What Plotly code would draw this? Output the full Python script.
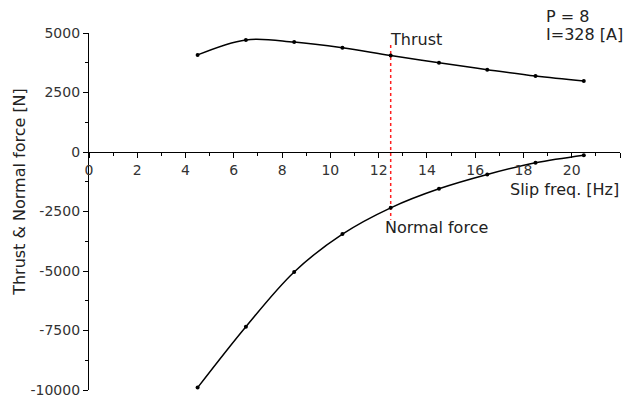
import plotly.graph_objects as go

slip_freq = [4.5, 6.5, 8.5, 10.5, 12.5, 14.5, 16.5, 18.5, 20.5]
thrust = [4080, 4710, 4620, 4380, 4050, 3750, 3460, 3190, 2980]
normal_force = [-9900, -7340, -5040, -3450, -2345, -1546, -945, -454, -134]
marker_x = [12.5, 12.5]
marker_y = [4500, -2850]
y_ticks = [5000, 2500, 0, -2500, -5000, -7500, -10000]
y_ticklabels = ["5000", "2500", "0", "-2500", "-5000", "-7500", "-10000"]

FONT = "DejaVu Sans"

fig = go.Figure()
fig.add_trace(go.Scatter(x=marker_x, y=marker_y, mode="lines",
                         line=dict(color="#ff2020", width=1.5, dash="dot"),
                         showlegend=False, hoverinfo="skip"))
fig.add_trace(go.Scatter(x=slip_freq, y=thrust, mode="lines+markers",
                         line=dict(color="black", width=1.5, shape="spline"),
                         marker=dict(color="black", size=4), showlegend=False))
fig.add_trace(go.Scatter(x=slip_freq, y=normal_force, mode="lines+markers",
                         line=dict(color="black", width=1.5, shape="spline"),
                         marker=dict(color="black", size=4), showlegend=False))

fig.update_layout(
    width=625, height=400,
    margin=dict(l=89, r=5, t=33, b=10),
    paper_bgcolor="white", plot_bgcolor="white",
    font=dict(family=FONT, color="#222", size=14),
    xaxis=dict(range=[0, 22], dtick=2, tick0=0, showgrid=False, zeroline=False,
               showline=True, linecolor="black", linewidth=1.3, automargin=False,
               ticks="outside", ticklen=5, tickcolor="black", tickwidth=1.2,
               minor=dict(dtick=1, ticks="outside", ticklen=3, tickcolor="black", tickwidth=1),
               anchor="free", position=2/3,
               tickfont=dict(size=14, color="#333")),
    yaxis=dict(range=[-10000, 5000], tickvals=y_ticks, ticktext=y_ticklabels,
               showgrid=False, zeroline=False, automargin=False,
               showline=True, linecolor="black", linewidth=1.3,
               ticks="outside", ticklen=5, tickcolor="black", tickwidth=1.2,
               minor=dict(dtick=1250, tick0=0, ticks="outside", ticklen=3, tickcolor="black", tickwidth=1),
               tickfont=dict(size=14, color="#333")),
    annotations=[
        dict(text="Thrust & Normal force [N]", xref="paper", yref="paper", x=0, xshift=-69,
             xanchor="center", yanchor="middle",
             y=0.555, textangle=-90, showarrow=False, font=dict(size=16, color="#222")),
        dict(text="Slip freq. [Hz]", xref="x", yref="y", x=17.35, xanchor="left",
             y=-1580, showarrow=False, font=dict(size=16, color="#222")),
        dict(text="Thrust", x=12.4, y=4730, xanchor="left", showarrow=False,
             font=dict(size=16, color="#222")),
        dict(text="Normal force", x=12.18, y=-3170, xanchor="left", showarrow=False,
             font=dict(size=16, color="#222")),
        dict(text="P = 8", xref="paper", yref="paper", x=0.857, y=1.046,
             xanchor="left", yanchor="middle", showarrow=False,
             font=dict(size=16, color="#222")),
        dict(text="I=328 [A]", xref="paper", yref="paper", x=0.857, y=0.995,
             xanchor="left", yanchor="middle", showarrow=False,
             font=dict(size=16, color="#222")),
    ],
)

fig.write_html("out.html",
               config={"displayModeBar": False},
               post_script="document.body.style.margin='0';document.body.style.overflow='hidden';")
